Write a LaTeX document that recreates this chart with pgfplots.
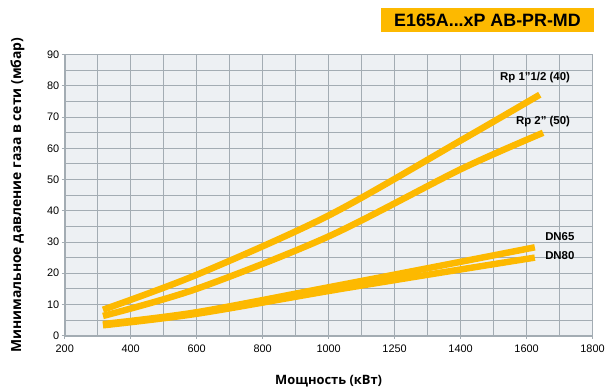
\documentclass[border=0pt]{standalone}
\usepackage{pgfplots}
\pgfplotsset{compat=1.18}
\usepackage{fontspec}
\setmainfont{Liberation Sans}
\newfontfamily\labfont{Open Sans}
\definecolor{gold}{RGB}{253,185,0}
\definecolor{gridc}{RGB}{163,172,179}
\definecolor{bgc}{RGB}{237,240,243}
\begin{document}
\begin{tikzpicture}[x=1bp,y=1bp]
\begin{axis}[
  at={(0,0)}, anchor=south west,
  scale only axis, width=530bp, height=282bp,
  xmin=0, xmax=8, ymin=0, ymax=90,
  xtick={0,1,2,3,4,5,6,7,8},
  xticklabels={200,400,600,800,1000,1250,1400,1600,1800},
  minor xtick={0.5,1.5,2.5,3.5,4.5,5.5,6.5,7.5},
  ytick={0,10,20,30,40,50,60,70,80,90},
  minor ytick={5,15,25,35,45,55,65,75,85},
  grid=both,
  grid style={gridc, line width=1bp},
  minor grid style={gridc, line width=1bp},
  axis background/.style={fill=bgc},
  axis x line*=bottom, axis y line*=left,
  axis line style={gridc, line width=2bp, -},
  tick style={gridc, line width=1bp},
  tick align=outside, major tick length=3bp, minor tick length=0pt,
  /pgf/number format/assume math mode=true,
  ticklabel style={font=\fontsize{11}{13}\selectfont, text=black},
  xticklabel style={yshift=-3bp},
  yticklabel style={xshift=1bp},
  xlabel={\labfont\bfseries\fontsize{13}{15}\selectfont Мощность (кВт)},
  xlabel style={yshift=-16bp},
  ylabel={\labfont\bfseries\fontsize{14}{16}\selectfont Минимальное давление газа в сети (мбар)},
  ylabel style={yshift=16bp},
  clip=false,
]
\addplot[gold, line width=6.5bp, smooth, tension=0.5] coordinates {
 (0.58,8.3) (2.0,19.5) (4.0,38.5) (6.0,62.5) (7.2,77.2)};
\addplot[gold, line width=6.5bp, smooth, tension=0.5] coordinates {
 (0.58,6.3) (2.0,15.0) (4.0,31.8) (6.0,53.3) (7.25,65)};
\addplot[gold, line width=6.5bp, smooth, tension=0.5] coordinates {
 (0.58,3.7) (2.0,7.5) (4.0,15.5) (5.5,21.6) (7.125,28.3)};
\addplot[gold, line width=6.5bp, smooth, tension=0.5] coordinates {
 (0.58,3.3) (2.0,7.0) (4.0,14.3) (5.5,19.5) (7.125,25)};
\node[anchor=east, font=\bfseries\fontsize{11.5}{13}\selectfont, inner sep=0pt] at (axis cs:7.66,82.6) {Rp 1”1/2 (40)};
\node[anchor=east, font=\bfseries\fontsize{11.5}{13}\selectfont, inner sep=0pt] at (axis cs:7.66,68.6) {Rp 2” (50)};
\node[anchor=west, font=\bfseries\fontsize{11.5}{13}\selectfont, inner sep=0pt] at (axis cs:7.28,31.9) {DN65};
\node[anchor=west, font=\bfseries\fontsize{11.5}{13}\selectfont, inner sep=0pt] at (axis cs:7.28,25.5) {DN80};
\end{axis}
\fill[gold] (318,305) rectangle (531,329);
\node[font=\bfseries\fontsize{18}{20}\selectfont, inner sep=0pt] at (424.5,317) {E165A...xP AB-PR-MD};
\useasboundingbox (-65,-53) rectangle (543,337);
\end{tikzpicture}
\end{document}
